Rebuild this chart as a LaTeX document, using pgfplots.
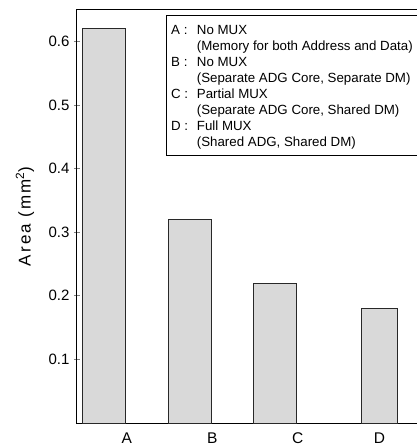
\documentclass[border=0pt]{standalone}
\usepackage{fontspec}
\setmainfont{Liberation Sans}
\newfontfamily\spaced[LetterSpace=12]{Liberation Sans}
\usepackage{pgfplots}
\pgfplotsset{compat=1.18}
\definecolor{barfill}{RGB}{217,217,217}
\definecolor{barline}{RGB}{40,40,40}

\begin{document}
\begin{tikzpicture}
\begin{axis}[
  scale only axis,
  width=340pt, height=413.5pt,
  xmin=-0.582, xmax=3.394,
  ymin=0, ymax=0.65,
  axis line style={line width=1pt},
  ytick={0.1,0.2,0.3,0.4,0.5,0.6},
  ytick pos=left,
  yticklabel style={/pgf/number format/fixed, /pgf/number format/precision=1, font=\fontsize{15}{16}\selectfont, xshift=-1pt},
  /pgf/number format/assume math mode=true,
  tick align=center, major tick length=6pt,
  ytick style={line width=0.8pt},
  xtick={0,1,2,2.955},
  xticklabels={A,B,C,D},
  xtick style={draw=none},
  xticklabel style={font=\fontsize{15.5}{16}\selectfont, anchor=base, yshift=-14pt},
  ylabel={\spaced Area (mm\textsuperscript{2})},
  ylabel style={at={(axis description cs:-0.153,0.5)}, anchor=center, font=\fontsize{17}{18}\selectfont},
  ybar, bar width=43pt,
  clip=false,
]
\addplot[fill=barfill, draw=barline, line width=0.8pt] coordinates {(0,0.62) (1,0.32) (2,0.22)};
\addplot[fill=barfill, draw=barline, line width=0.8pt, bar width=35.6pt, bar shift=0pt] coordinates {(2.955,0.18)};
\end{axis}
% legend box
\draw[line width=0.8pt] (89pt,267.7pt) rectangle (400pt,407.5pt);
\begin{scope}[every node/.style={anchor=base west, inner sep=0pt, font=\fontsize{13.3}{14}\selectfont}]
\node at (94pt,388.7pt) {A :};
\node at (119.7pt,388.7pt) {No MUX};
\node at (119.7pt,372.7pt) {(Memory for both Address and Data)};
\node at (94pt,356.7pt) {B :};
\node at (119.7pt,356.7pt) {No MUX};
\node at (119.7pt,340.7pt) {(Separate ADG Core, Separate DM)};
\node at (94pt,324.7pt) {C :};
\node at (119.7pt,324.7pt) {Partial MUX};
\node at (119.7pt,308.7pt) {(Separate ADG Core, Shared DM)};
\node at (94pt,292.7pt) {D :};
\node at (119.7pt,292.7pt) {Full MUX};
\node at (119.7pt,276.7pt) {(Shared ADG, Shared DM)};
\end{scope}
\pgfresetboundingbox
\path[use as bounding box] (-77pt,-22pt) rectangle (339pt,423pt);
\end{tikzpicture}
\end{document}
